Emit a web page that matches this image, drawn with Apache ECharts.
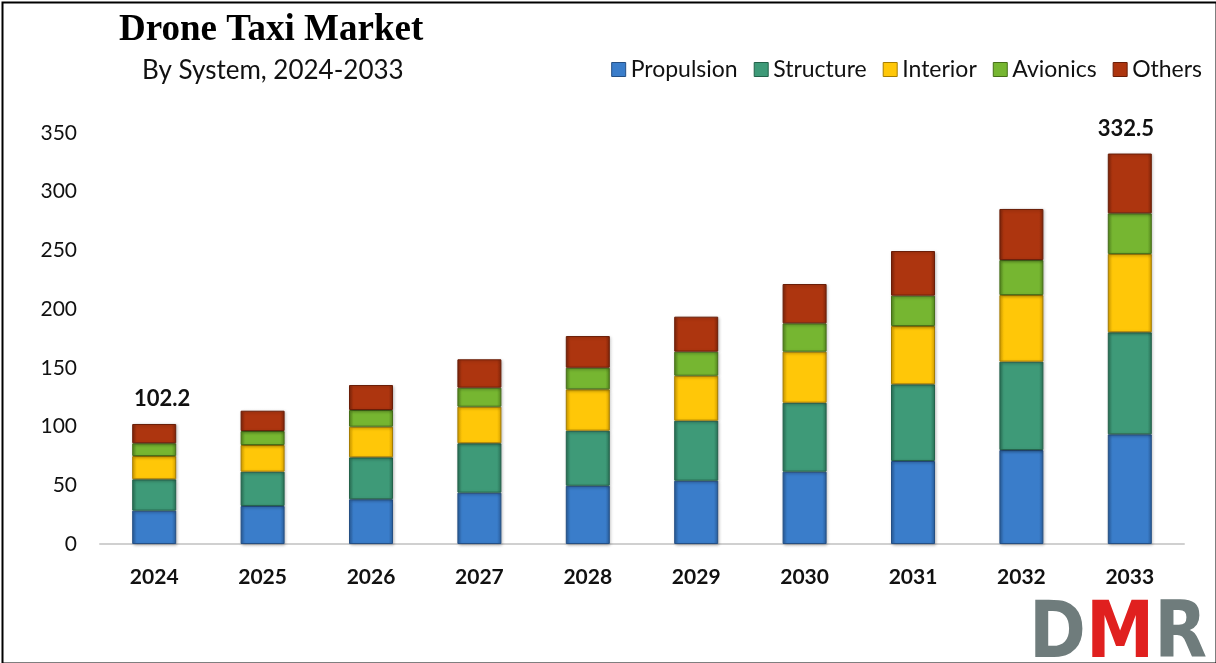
<!DOCTYPE html>
<html><head><meta charset="utf-8">
<script src="https://cdn.jsdelivr.net/npm/echarts/dist/echarts.min.js"></script>
<style>html,body{margin:0;padding:0;background:#fff}#c{width:1216px;height:663px}</style>
</head><body><div id="c"></div>
<script>
const years = ['2024','2025','2026','2027','2028','2029','2030','2031','2032','2033'];
const propulsion = [28.4, 32.4, 38.1, 43.7, 49.6, 53.9, 61.6, 70.7, 80.0, 93.4];
const structure  = [26.7, 29.2, 35.7, 42.1, 46.9, 51.1, 58.7, 65.3, 75.3, 86.9];
const interior   = [19.8, 22.7, 26.1, 31.1, 35.2, 38.3, 43.5, 49.6, 56.7, 66.7];
const avionics   = [10.9, 11.9, 14.2, 16.2, 18.4, 20.5, 24.1, 25.9, 29.8, 34.6];
const others     = [16.4, 17.3, 21.3, 24.2, 27.0, 29.8, 33.5, 38.0, 43.5, 50.9];
const totalLabels = ['102.2','','','','','','','','','332.5'];
const yTicks = [0, 50, 100, 150, 200, 250, 300, 350];

const names = ['Propulsion','Structure','Interior','Avionics','Others'];
const colors = ['#3a7dca','#3e9a78','#ffc708','#76b631','#ad350f'];
const edges  = ['#2a5f9e','#2b7358','#d9a300','#56891f','#82260a'];
const borders = ['#244f84','#23624a','#a67d00','#466f18','#6a1e08'];
const dataSets = [propulsion, structure, interior, avionics, others];
// horizontal nudge of the total labels (layout only)
const labelNudge = [8, 0, 0, 0, 0, 0, 0, 0, 0, -4];

const FONT = 'Lato, "Noto Sans", sans-serif';

function fill(i){
  return new echarts.graphic.LinearGradient(0, 0, 1, 0, [
    { offset: 0, color: edges[i] },
    { offset: 0.1, color: colors[i] },
    { offset: 0.9, color: colors[i] },
    { offset: 1, color: edges[i] }
  ]);
}

const series = names.map((n, i) => ({
  name: n,
  type: 'bar',
  stack: 'total',
  barWidth: 44,
  data: i === 4
    ? dataSets[i].map((v, k) => ({ value: v, label: { offset: [labelNudge[k], 0] } }))
    : dataSets[i],
  itemStyle: {
    color: fill(i),
    borderColor: borders[i],
    borderWidth: 1,
    shadowColor: 'rgba(0,0,0,0.25)',
    shadowBlur: 3,
    shadowOffsetX: 1,
    shadowOffsetY: 1
  },
  label: i === 4 ? {
    show: true,
    position: 'top',
    distance: 14,
    formatter: p => totalLabels[p.dataIndex],
    fontFamily: FONT,
    fontWeight: 'bold',
    fontSize: 22,
    color: '#111'
  } : { show: false }
}));

const chart = echarts.init(document.getElementById('c'), null, {renderer: 'canvas'});
chart.setOption({
  backgroundColor: '#fff',
  animation: false,
  title: [
    { text: 'Drone Taxi Market', left: 114, top: 7,
      textStyle: { fontFamily: '"Liberation Serif", serif', fontWeight: 'bold', fontSize: 37, color: '#000' } },
    { text: 'By System, 2024-2033', left: 137, top: 53,
      textStyle: { fontFamily: FONT, fontWeight: 'normal', fontSize: 26, color: '#111' } }
  ],
  legend: {
    data: names.map((n, i) => ({ name: n, itemStyle: { color: colors[i], borderColor: borders[i], borderWidth: 1 } })),
    right: 9, top: 53,
    itemWidth: 14, itemHeight: 14,
    itemGap: 16,
    icon: 'rect',
    textStyle: { fontFamily: FONT, fontSize: 23, color: '#111', padding: [0,0,0,0] }
  },
  grid: { left: 100, right: 32, top: 133, bottom: 119, containLabel: false },
  xAxis: {
    type: 'category',
    data: years,
    axisLine: { show: true, lineStyle: { color: '#d0d0d0', width: 2 } },
    axisTick: { show: false },
    axisLabel: { fontFamily: FONT, fontWeight: 'bold', fontSize: 21, color: '#111', margin: 23 }
  },
  yAxis: {
    type: 'value',
    min: yTicks[0], max: yTicks[yTicks.length-1], interval: 50,
    splitLine: { show: false },
    axisLine: { show: false },
    axisTick: { show: false },
    axisLabel: { fontFamily: FONT, fontSize: 21, color: '#111', margin: 23 }
  },
  series: series,
  graphic: [
    { type: 'rect', left: 0, top: 0, shape: { width: 1214, height: 661 },
      style: { fill: 'none', stroke: '#000', lineWidth: 2 }, silent: true, z: 100 },
    { type: 'text', x: 1029, y: 598, scaleX: 0.88, z: 50,
      style: {
        rich: {
          d: { fill: '#6f7c7c', fontSize: 78, fontWeight: 900, fontFamily: '"DejaVu Sans", sans-serif' },
          m: { fill: '#e0201f', fontSize: 78, fontWeight: 900, fontFamily: '"DejaVu Sans", sans-serif' },
          r: { fill: '#6f7c7c', fontSize: 78, fontWeight: 900, fontFamily: '"DejaVu Sans", sans-serif' }
        },
        text: '{d|D}{m|M}{r|R}',
        verticalAlign: 'top'
      }
    }
  ]
});
</script>
</body></html>
